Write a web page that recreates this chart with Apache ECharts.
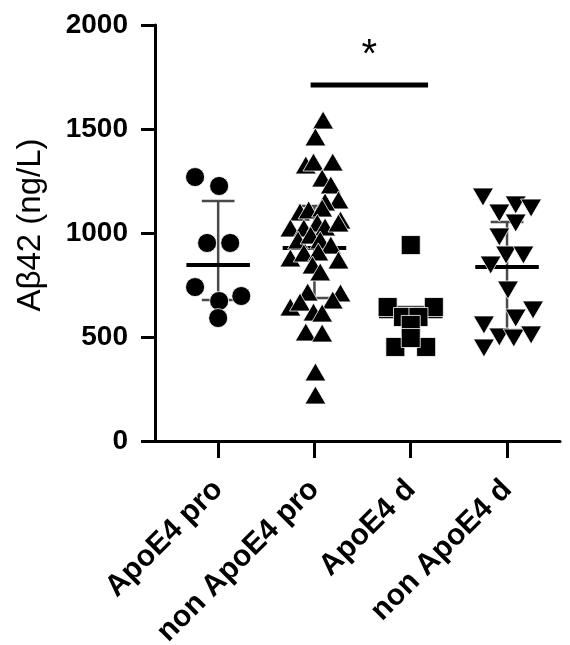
<!DOCTYPE html>
<html>
<head>
<meta charset="utf-8">
<script src="https://cdn.jsdelivr.net/npm/echarts@6/dist/echarts.min.js"></script>
<style>
html,body{margin:0;padding:0;background:#fff;}
#chart{width:570px;height:645px;}
</style>
</head>
<body>
<div id="chart"></div>
<script>
// ---- data ----
const categories = ['ApoE4 pro', 'non ApoE4 pro', 'ApoE4 d', 'non ApoE4 d'];
const yTickValues = [0, 500, 1000, 1500, 2000];

// jitter offsets (in category units) and values for each group
const apoe4ProOffsets = [-0.24, 0.01, -0.115, 0.125, -0.24, 0.01, 0.24, 0];
const apoe4ProValues  = [1269, 1226, 952, 952, 740, 673, 697, 591];

const nonApoe4ProOffsets = [0.09, 0.01, -0.09, -0.01, 0.19, 0.08, 0.17, 0.25, 0.11, -0.15, -0.06, 0.08, 0.27,
  -0.25, -0.11, 0.03, 0.11, 0.25, -0.17, -0.04, 0.06, 0.17, -0.25, -0.11, 0.04, 0.25, -0.02, 0.06,
  -0.07, 0.27, 0.19, -0.25, -0.15, -0.01, 0.08, -0.09, 0.08, 0.01, 0.01];
const nonApoe4ProValues = [1543, 1462, 1327, 1341, 1341, 1264, 1231, 1159, 1149, 1101, 1111, 1120, 1062,
  1024, 1024, 1048, 1029, 1048, 966, 990, 966, 942, 880, 904, 909, 870, 846, 813,
  716, 712, 678, 644, 668, 620, 615, 524, 519, 332, 221];

const apoe4DOffsets = [0, -0.24, 0.24, -0.08, 0.08, 0, -0.16, 0.16, 0];
const apoe4DValues  = [942, 644, 644, 596, 596, 558, 452, 452, 495];

const nonApoe4DOffsets = [-0.25, 0.09, 0.25, -0.08, 0.09, -0.08, -0.01, 0.17, -0.17, 0.01, 0.27, 0.09,
  -0.24, -0.08, 0.07, 0.25, -0.24];
const nonApoe4DValues  = [1173, 1135, 1120, 1096, 1048, 981, 894, 894, 846, 726, 630, 591,
  558, 500, 495, 510, 447];

// median and interquartile range per group
const medians = [846, 928, 600, 837];
const q1s     = [678, 688, 473, 534];
const q3s     = [1154, 1130, 644, 1053];

// significance annotation: groups compared, bar level, label
const sigGroups = [2, 3];
const sigLevel = 1712;
const sigStarLevel = 1850;
const sigLabel = '*';

// ---- build ----
const FONT = "'Liberation Sans', Arial, Helvetica, sans-serif";
function pts(groupIndex, offsets, values) {
  return values.map((v, i) => [groupIndex + 1 + offsets[i], v]);
}
const groups = [
  {data: pts(0, apoe4ProOffsets, apoe4ProValues), symbol: 'circle', size: 19, rot: 0},
  {data: pts(1, nonApoe4ProOffsets, nonApoe4ProValues), symbol: 'triangle', size: [21, 18], rot: 0},
  {data: pts(2, apoe4DOffsets, apoe4DValues), symbol: 'rect', size: 19, rot: 0},
  {data: pts(3, nonApoe4DOffsets, nonApoe4DValues), symbol: 'triangle', size: [21, 18], rot: 180}
];
const summaryData = categories.map((c, i) => [i + 1, medians[i], q1s[i], q3s[i]]);

const chart = echarts.init(document.getElementById('chart'), null, {renderer: 'canvas'});
const option = {
  animation: false,
  backgroundColor: '#fff',
  grid: {left: 155, right: 10, top: 25, bottom: 204, containLabel: false, outerBoundsMode: 'none'},
  xAxis: {
    type: 'value', min: 0.344, max: 4.55,
    splitLine: {show: false},
    axisLine: {show: true, onZero: false, lineStyle: {color: '#000', width: 3}},
    axisTick: {show: true, length: 17, lineStyle: {color: '#000', width: 3},
      customValues: [1, 2, 3, 4]},
    axisLabel: {
      customValues: [1, 2, 3, 4],
      formatter: v => categories[Math.round(v) - 1] || '',
      rotate: 45, margin: 44,
      color: '#000', fontFamily: FONT, fontWeight: 'bold', fontSize: 30
    }
  },
  yAxis: {
    type: 'value', min: yTickValues[0], max: yTickValues[yTickValues.length - 1], interval: 500,
    splitLine: {show: false},
    axisLine: {show: true, lineStyle: {color: '#000', width: 3}},
    axisTick: {show: true, length: 14, lineStyle: {color: '#000', width: 3}},
    axisLabel: {margin: 27, color: '#000', fontFamily: FONT, fontWeight: 'bold', fontSize: 28,
      formatter: v => String(v)},
    name: 'Aβ42 (ng/L)',
    nameLocation: 'middle',
    nameGap: 108,
    nameRotate: 90,
    nameTextStyle: {color: '#000', fontFamily: FONT, fontSize: 33, padding: [0, 0, 0, 16]}
  },
  series: [
    {
      type: 'custom',
      z: 1,
      data: summaryData,
      renderItem: function (params, api) {
        const x = api.value(0);
        const med = api.coord([x, api.value(1)]);
        const lo = api.coord([x, api.value(2)]);
        const hi = api.coord([x, api.value(3)]);
        const half = api.size([0.33, 0])[0];
        const cap = api.size([0.17, 0])[0];
        return {
          type: 'group',
          children: [
            {type: 'line', shape: {x1: lo[0], y1: lo[1], x2: hi[0], y2: hi[1]}, style: {stroke: '#4a4a4a', lineWidth: 2.5}},
            {type: 'line', shape: {x1: lo[0] - cap, y1: lo[1], x2: lo[0] + cap, y2: lo[1]}, style: {stroke: '#4a4a4a', lineWidth: 2.5}},
            {type: 'line', shape: {x1: hi[0] - cap, y1: hi[1], x2: hi[0] + cap, y2: hi[1]}, style: {stroke: '#4a4a4a', lineWidth: 2.5}},
            {type: 'line', shape: {x1: med[0] - half, y1: med[1], x2: med[0] + half, y2: med[1]}, style: {stroke: '#000', lineWidth: 4}}
          ]
        };
      }
    },
    ...groups.map(g => ({
      type: 'scatter',
      z: 3,
      data: g.data,
      symbol: g.symbol,
      symbolSize: g.size,
      symbolRotate: g.rot,
      itemStyle: {color: '#000', borderColor: '#fff', borderWidth: 0.8, opacity: 1}
    })),
    {
      type: 'custom',
      z: 4,
      data: [[sigGroups[0], sigGroups[1], sigLevel, sigStarLevel]],
      renderItem: function (params, api) {
        const a = api.coord([api.value(0) - 0.04, api.value(2)]);
        const b = api.coord([api.value(1) + 0.18, api.value(2)]);
        const s = api.coord([(api.value(0) + api.value(1)) / 2 + 0.07, api.value(3)]);
        return {
          type: 'group',
          children: [
            {type: 'line', shape: {x1: a[0], y1: a[1], x2: b[0], y2: b[1]}, style: {stroke: '#000', lineWidth: 5}},
            {type: 'text', x: s[0], y: s[1], style: {text: sigLabel, fill: '#000', fontFamily: FONT, fontSize: 40, align: 'center', verticalAlign: 'middle'}}
          ]
        };
      }
    }
  ]
};
chart.setOption(option);
</script>
</body>
</html>
